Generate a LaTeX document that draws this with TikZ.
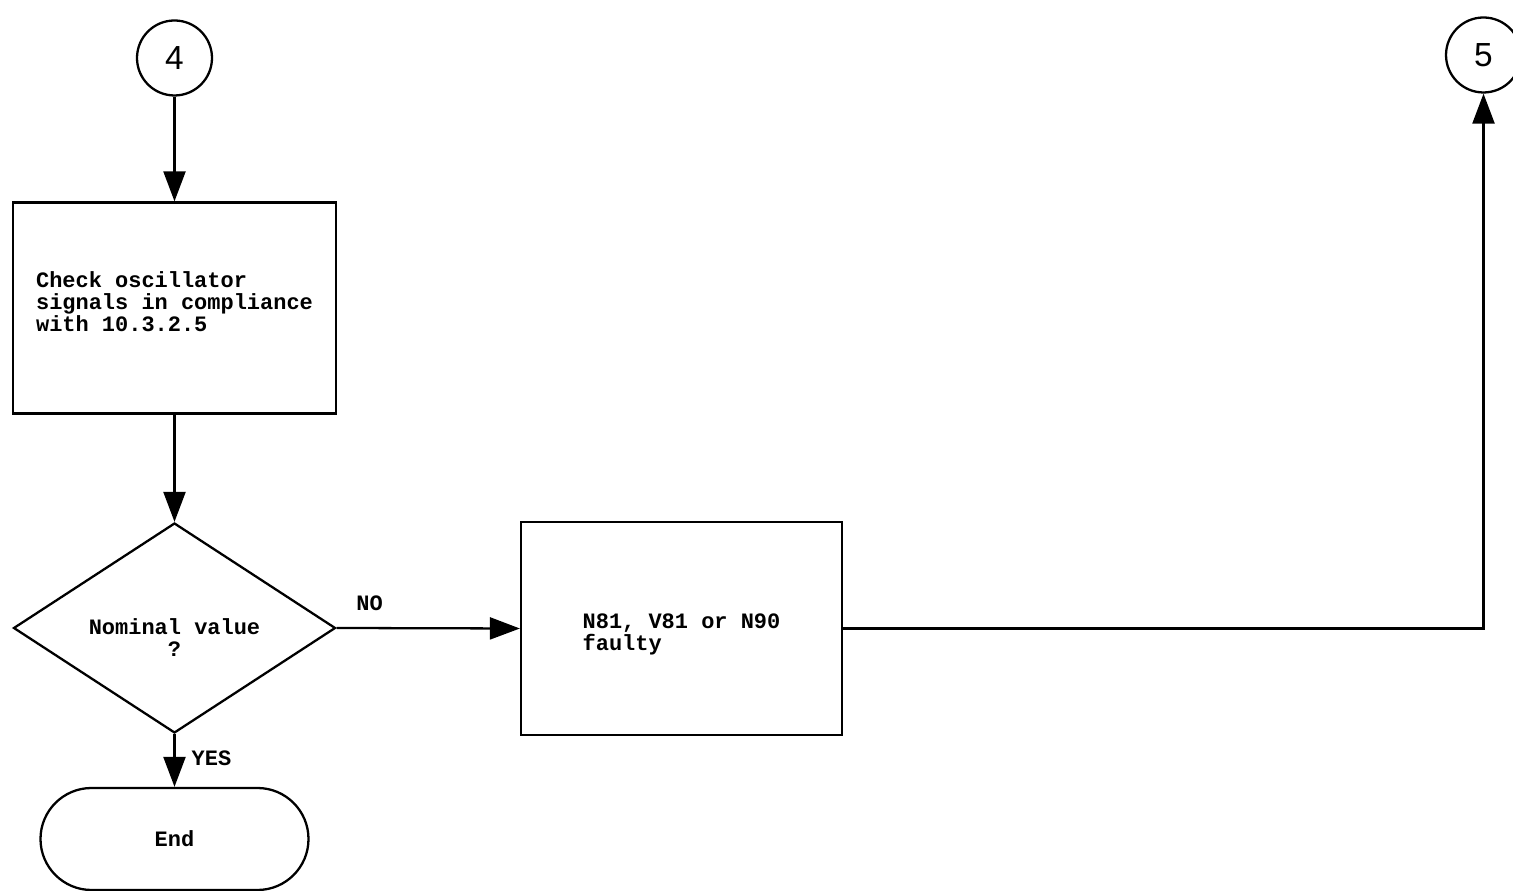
\documentclass[tikz,border=0pt]{standalone}
\usepackage{fontspec}
\setmonofont{Liberation Mono}
\setsansfont{Liberation Sans}
\usetikzlibrary{arrows.meta,shapes.geometric}

\begin{document}
\begin{tikzpicture}[
    font=\ttfamily\bfseries\fontsize{12.5}{12.5}\selectfont,
    connector/.style={
        circle,
        draw,
        line width=1.3pt,
        minimum size=15mm,
        inner sep=0pt,
        font=\sffamily\fontsize{19}{19}\selectfont
    },
    process/.style={
        rectangle,
        draw,
        line width=1.3pt,
        align=left
    },
    decision/.style={
        diamond,
        draw,
        line width=1.3pt,
        aspect=1.53,
        minimum width=64.4mm,
        minimum height=42mm,
        inner sep=1pt,
        align=center
    },
    terminal/.style={
        rectangle,
        draw,
        line width=1.3pt,
        rounded corners=10.2mm,
        minimum width=53.6mm,
        minimum height=20.4mm
    },
    flow/.style={-{Triangle[length=6mm,width=4.4mm]}, line width=1.3pt},
    flow label/.style={inner sep=2pt}
]
\useasboundingbox (0,0) rectangle (30.26,17.82);

% Entry connector
\node[connector] (conn4) at (3.49,16.66) {4};

% Check step
\node[process, minimum width=64.6mm, minimum height=42.2mm] (check) at (3.49,11.66)
    {Check oscillator\\signals in compliance\\with 10.3.2.5\rule[-2.4mm]{0pt}{2.4mm}};

% Decision
\node[decision] (nominal) at (3.49,5.26) {\rule{0pt}{7mm}Nominal value\\?};

% Fault result
\node[process, minimum width=64.2mm, minimum height=42.6mm] (faulty) at (13.63,5.25)
    {\rule{0pt}{5.5mm}N81, V81 or N90\\faulty};

% Exit connector
\node[connector] (conn5) at (29.67,16.72) {5};

% End
\node[terminal] (stop) at (3.49,1.04) {End};

% Flow
\draw[flow] (conn4.south) -- (check.north);
\draw[flow] (check.south) -- (nominal.north);
\draw[flow] (nominal.east) -- node[flow label, above, pos=0.18, yshift=2.5mm] {NO}
    (faulty.west);
\draw[flow] (faulty.east) -| (conn5.south);
\draw[flow] (nominal.south) -- node[flow label, right, pos=0.45, xshift=2.5mm] {YES}
    (stop.north);

\end{tikzpicture}
\end{document}
